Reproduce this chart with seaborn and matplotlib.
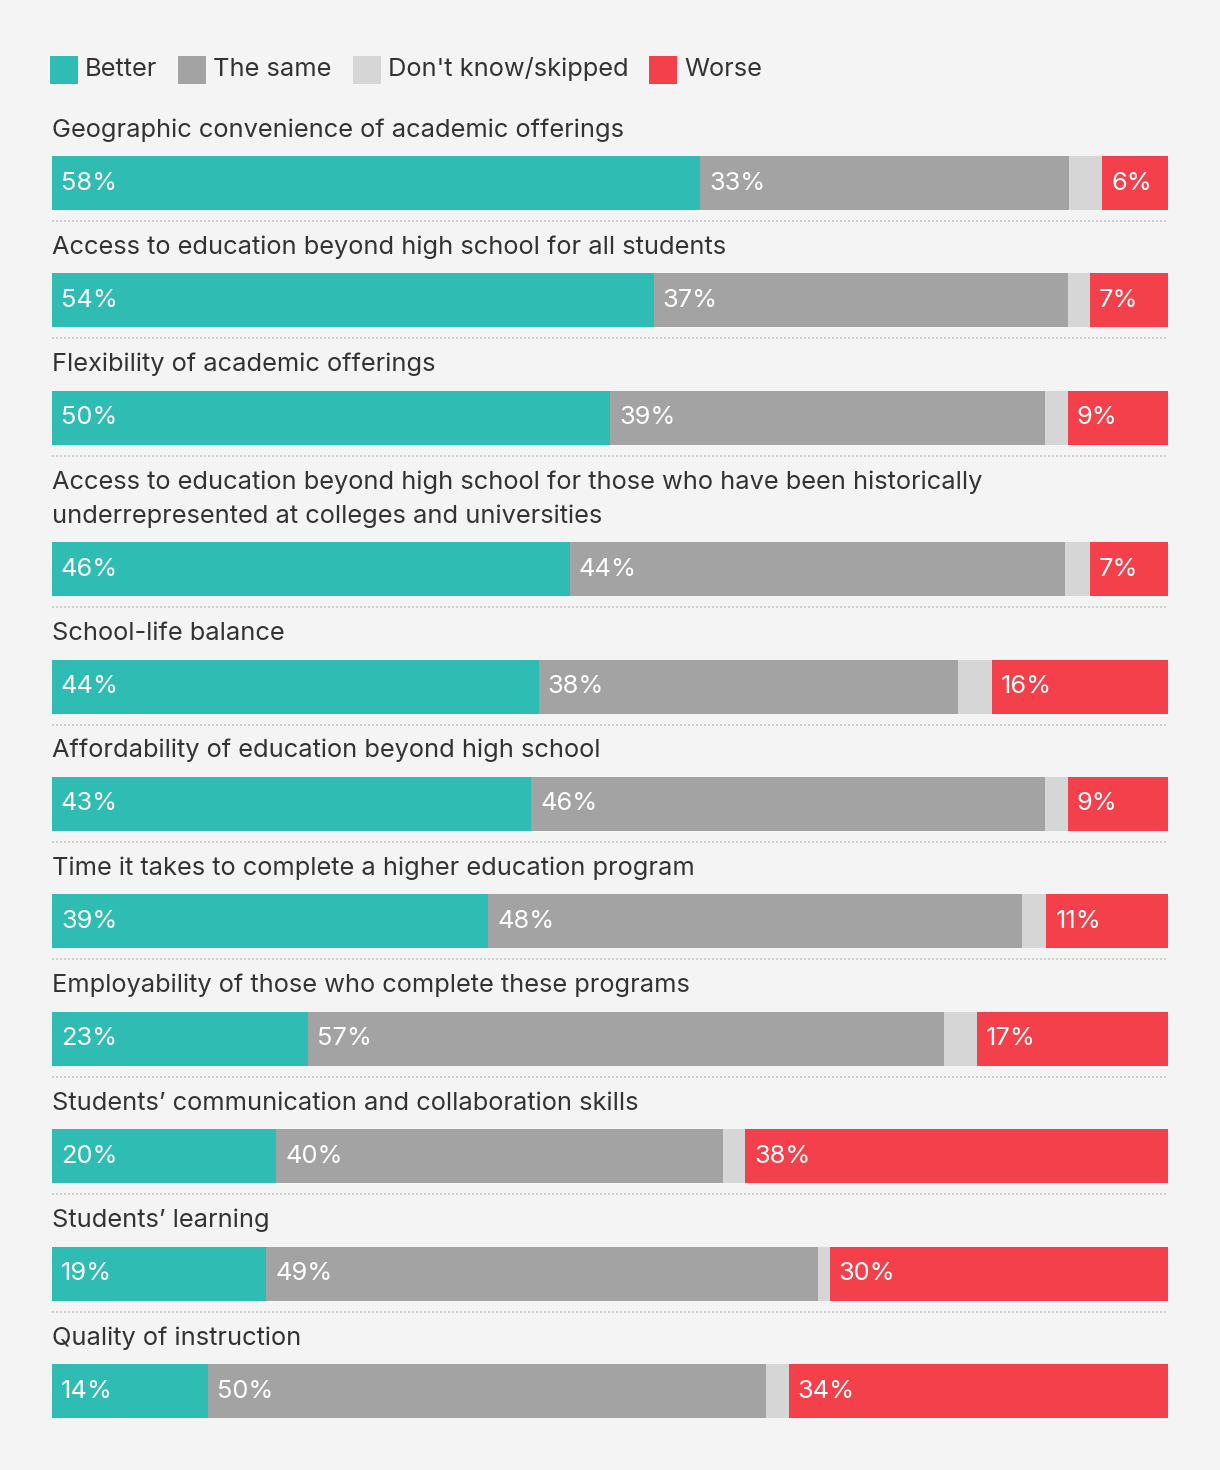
import numpy as np
import pandas as pd
import matplotlib
matplotlib.use("Agg")
import matplotlib.pyplot as plt
import matplotlib.transforms as mtransforms
from matplotlib.lines import Line2D
from matplotlib.patches import Rectangle
import seaborn as sns

# ---------------- data ----------------
categories = [
    "Geographic convenience of academic offerings",
    "Access to education beyond high school for all students",
    "Flexibility of academic offerings",
    "Access to education beyond high school for those who have been historically\nunderrepresented at colleges and universities",
    "School-life balance",
    "Affordability of education beyond high school",
    "Time it takes to complete a higher education program",
    "Employability of those who complete these programs",
    "Students\u2019 communication and collaboration skills",
    "Students\u2019 learning",
    "Quality of instruction",
]
better = [58.1, 53.9, 50.0, 46.4, 43.6, 43.0, 39.1, 22.9, 20.1, 19.2, 14.0]
same = [33.0, 37.1, 39.0, 44.4, 37.6, 46.1, 47.8, 57.0, 40.0, 49.4, 50.0]
dont_know = [3.0, 2.0, 2.0, 2.2, 3.0, 2.0, 2.2, 3.0, 2.0, 1.1, 2.0]
worse = [5.9, 7.0, 9.0, 7.0, 15.8, 9.0, 10.9, 17.1, 37.9, 30.3, 34.0]

series_names = ["Better", "The same", "Don't know/skipped", "Worse"]
colors = ["#2fbcb3", "#a3a3a3", "#d6d6d6", "#f3404a"]
bg = "#f4f4f4"
txt_color = "#333333"

# ---------------- style ----------------
sns.set_theme(style="white")
plt.rcParams["font.family"] = ["Inter", "DejaVu Sans"]

W, H = 1220, 1470
fig = plt.figure(figsize=(W / 100, H / 100), dpi=100)
fig.patch.set_facecolor(bg)

def fx(px):
    return px / W

def fy(py):
    return 1 - py / H

FS = 18.3
left_px, right_px = 52, 1168
bar_h = 54
first_top = 156
pitch = 117.4
line_pitch = 34

renderer = fig.canvas.get_renderer()

# legend (squares and labels laid out left to right)
x0 = 50
for name, col in zip(series_names, colors):
    fig.add_artist(Rectangle((fx(x0), fy(84)), 28 / W, 28 / H,
                             transform=fig.transFigure, facecolor=col,
                             edgecolor="none"))
    t = fig.text(fx(x0 + 35), fy(76), name, fontsize=FS, color=txt_color,
                 va="baseline", ha="left")
    wpx = t.get_window_extent(renderer=renderer).width
    x0 = x0 + 35 + wpx + 21

# rows
top = first_top
for i, cat in enumerate(categories):
    lines = cat.split("\n")
    if i > 0:
        top += pitch + line_pitch * (len(lines) - 1)
    for j, ln in enumerate(lines):
        base = top - 19.5 - line_pitch * (len(lines) - 1 - j)
        fig.text(fx(left_px), fy(base), ln, fontsize=FS, color=txt_color,
                 va="baseline", ha="left")
    ax = fig.add_axes([fx(left_px), fy(top + bar_h), (right_px - left_px) / W, bar_h / H])
    ax.set_facecolor(bg)
    vals = [better[i], same[i], dont_know[i], worse[i]]
    cums = np.cumsum(vals)
    for k in range(3, -1, -1):
        df = pd.DataFrame({"cat": [cat], "value": [cums[k]]})
        sns.barplot(data=df, x="value", y="cat", orient="h", color=colors[k],
                    saturation=1, width=1, linewidth=0, ax=ax, errorbar=None)
    ax.set_xlim(0, cums[-1])
    ax.set_ylim(0.5, -0.5)
    ax.axis("off")
    starts = np.concatenate([[0], cums[:-1]])
    off = mtransforms.offset_copy(ax.transData, fig=fig, x=9, y=0, units="dots")
    for k in [0, 1, 3]:
        ax.text(starts[k], 0, f"{round(vals[k])}%", transform=off, color="white",
                fontsize=FS, va="center", ha="left")
    if i < len(categories) - 1:
        ysep = top + bar_h + 11
        fig.add_artist(Line2D([fx(left_px), fx(right_px)], [fy(ysep), fy(ysep)],
                              transform=fig.transFigure, color="#cfcfcf",
                              lw=1.44, linestyle=(0, (1, 1))))

fig.savefig("out.png", dpi=100, facecolor=bg)
